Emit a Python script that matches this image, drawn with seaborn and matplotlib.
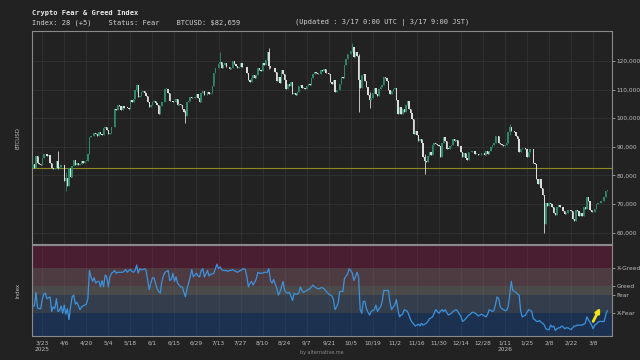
import numpy as np
import pandas as pd
import matplotlib
matplotlib.use("Agg")
import matplotlib.pyplot as plt
import matplotlib.ticker as mticker
import seaborn as sns

# ---------------- data ----------------
START = "2025-03-17"
OPEN0 = 82.6  # close of the day before the first candle (k USD)

# daily BTC closes, thousands of USD, 2025-03-17 .. 2026-03-17
CLOSE_K = [
    # Mar 2025 (17-31)
    84.1, 82.7, 86.9, 84.2, 84.0, 83.8, 86.1, 87.5, 87.4, 86.9, 87.2, 84.4, 82.6, 82.4, 82.5,
    # Apr
    85.2, 82.5, 83.1, 83.8, 83.5, 78.2, 79.2, 76.3, 82.6, 79.6, 83.4, 85.3, 83.7, 84.5, 83.7,
    84.0, 84.9, 84.4, 85.1, 85.2, 87.5, 93.4, 93.7, 93.9, 94.7, 94.6, 93.8, 95.0, 94.3, 94.2,
    # May
    96.5, 96.9, 95.9, 94.3, 94.7, 96.8, 97.0, 103.2, 102.9, 104.6, 104.1, 102.8, 104.2, 103.5, 103.7,
    103.6, 103.2, 106.4, 105.6, 106.8, 109.7, 111.7, 107.3, 107.8, 109.0, 109.4, 108.9, 107.8, 105.6, 103.9, 104.6,
    # Jun
    105.7, 105.9, 105.4, 104.7, 101.6, 104.4, 105.6, 105.8, 110.3, 110.3, 108.7, 105.9, 106.1, 105.5, 105.6,
    106.8, 104.6, 104.9, 104.7, 103.3, 102.1, 100.9, 105.6, 106.0, 107.3, 106.9, 107.1, 107.3, 108.4, 107.1,
    # Jul
    105.7, 108.8, 109.6, 108.0, 108.2, 109.2, 108.3, 108.9, 111.3, 115.9, 117.5, 117.4, 119.1, 119.8, 117.7,
    118.7, 119.4, 117.9, 117.9, 117.3, 117.4, 119.9, 118.8, 118.4, 117.6, 117.9, 119.4, 118.0, 117.8, 117.8, 115.8,
    # Aug
    113.3, 112.5, 114.2, 115.0, 114.1, 115.0, 117.5, 116.7, 116.5, 119.3, 118.7, 120.2, 123.3, 118.4, 117.4,
    117.5, 117.5, 116.3, 112.9, 114.3, 112.4, 116.9, 115.4, 113.5, 110.1, 111.8, 111.3, 112.6, 108.4, 108.8, 108.2,
    # Sep
    109.3, 111.2, 111.7, 110.7, 110.7, 110.2, 111.1, 112.0, 111.5, 113.9, 115.5, 116.1, 115.9, 115.3, 115.4,
    116.8, 116.5, 117.1, 115.7, 115.7, 115.3, 112.7, 112.0, 113.3, 109.0, 109.7, 109.7, 112.1, 114.4, 114.1,
    # Oct
    118.6, 120.6, 122.3, 122.4, 123.5, 124.8, 121.4, 123.3, 121.7, 113.2, 110.6, 115.2, 115.3, 113.0, 110.8,
    108.2, 106.4, 107.2, 108.7, 110.6, 108.5, 107.6, 110.1, 111.0, 111.6, 114.5, 114.1, 112.9, 110.0, 108.3, 109.6,
    # Nov
    110.1, 110.6, 106.5, 101.6, 103.9, 101.3, 103.3, 102.3, 104.7, 106.0, 103.1, 101.7, 99.7, 94.6, 95.6,
    94.2, 92.2, 92.9, 91.5, 86.6, 85.1, 84.6, 86.8, 88.3, 87.3, 90.5, 91.3, 90.9, 90.8, 90.4,
    # Dec
    86.3, 91.3, 93.5, 92.1, 89.4, 89.3, 90.4, 90.6, 92.7, 92.0, 92.5, 90.3, 90.3, 88.2, 86.4,
    87.8, 86.1, 85.5, 88.1, 88.3, 88.6, 88.5, 87.6, 87.6, 87.3, 87.3, 87.8, 87.8, 87.1, 88.4, 87.5,
    # Jan 2026
    88.7, 89.9, 90.6, 91.4, 93.9, 93.7, 91.3, 91.0, 90.5, 90.4, 90.8, 91.2, 95.3, 97.0, 95.5,
    95.5, 95.1, 93.6, 92.6, 88.3, 89.4, 89.5, 89.5, 89.2, 86.6, 88.3, 89.1, 89.2, 84.5, 84.1, 78.6,
    # Feb
    76.9, 78.7, 75.6, 73.0, 63.0, 70.5, 69.3, 70.5, 70.1, 68.8, 67.0, 66.2, 68.8, 69.8,
    68.8, 68.8, 67.5, 66.4, 67.0, 67.9, 68.0, 67.6, 64.6, 64.1, 68.0, 67.5, 65.9, 67.0,
    # Mar (1-17)
    65.7, 68.8, 68.3, 72.6, 70.9, 68.0, 67.3, 67.2, 68.4, 69.9, 70.2, 70.5, 70.9, 71.1, 72.5, 74.5, 74.9,
]

# notable wicks (thousands of USD)
WICK_DATES = ["2025-04-02", "2025-04-07", "2025-05-22", "2025-06-22", "2025-07-14", "2025-08-14",
              "2025-10-06", "2025-10-10", "2025-10-17", "2025-11-21", "2026-01-14", "2026-02-05"]
WICK_HIGH_K = [88.5, 81.2, 111.9, 103.0, 123.2, 124.5, 126.2, 122.5, 109.0, 87.5, 97.9, 73.1]
WICK_LOW_K = [82.3, 74.5, 109.3, 98.2, 118.9, 117.2, 123.1, 102.0, 103.5, 80.5, 94.2, 60.0]

# daily Fear & Greed index
FGI = [
    33, 33, 48, 31, 30, 30, 40, 46, 47, 41,
    42, 43, 27, 32, 30, 41, 27, 28, 33, 25,
    34, 24, 30, 18, 32, 43, 45, 35, 37, 33,
    29, 32, 33, 34, 35, 41, 72, 65, 60, 64,
    58, 60, 60, 54, 61, 54, 67, 65, 54, 65,
    69, 70, 72, 69, 70, 70, 70, 70, 71, 73,
    70, 72, 73, 71, 70, 72, 78, 69, 74, 73,
    73, 74, 72, 61, 51, 58, 64, 64, 58, 52,
    49, 47, 60, 66, 70, 71, 72, 61, 62, 69,
    60, 65, 58, 56, 54, 54, 48, 43, 52, 58,
    65, 73, 65, 67, 69, 66, 65, 72, 74, 65,
    68, 72, 66, 68, 68, 69, 74, 79, 74, 76,
    73, 72, 72, 72, 71, 72, 72, 73, 72, 71,
    70, 71, 72, 73, 74, 73, 65, 54, 58, 60,
    56, 59, 63, 70, 69, 69, 69, 70, 70, 70,
    74, 61, 58, 62, 57, 53, 45, 48, 54, 60,
    50, 48, 47, 48, 44, 39, 47, 46, 46, 47,
    54, 50, 48, 49, 50, 51, 52, 54, 56, 54,
    53, 52, 52, 53, 53, 52, 50, 48, 46, 45,
    44, 40, 29, 32, 36, 49, 49, 49, 63, 66,
    68, 74, 72, 69, 61, 65, 70, 65, 29, 25,
    38, 38, 30, 26, 23, 27, 28, 29, 34, 27,
    30, 32, 38, 50, 50, 50, 50, 36, 29, 32,
    34, 40, 29, 21, 23, 24, 29, 28, 27, 23,
    18, 15, 13, 11, 12, 13, 11, 14, 12, 13,
    14, 16, 19, 20, 21, 25, 29, 27, 25, 27,
    29, 27, 29, 26, 23, 24, 25, 27, 28, 29,
    27, 24, 22, 16, 17, 19, 21, 23, 24, 26,
    26, 25, 24, 22, 23, 24, 23, 22, 21, 24,
    29, 28, 27, 28, 35, 43, 41, 32, 30, 29,
    28, 28, 32, 45, 60, 50, 49, 48, 46, 45,
    27, 21, 22, 23, 26, 29, 28, 27, 19, 18,
    16, 16, 17, 15, 14, 12, 8, 7, 7, 12,
    10, 11, 6, 8, 9, 9, 11, 10, 8, 9,
    9, 8, 7, 9, 11, 11, 12, 12, 12, 12,
    13, 14, 21, 18, 15, 12, 8, 12, 13, 15,
    16, 16, 16, 16, 23, 28,
]

BAND_EDGES = [0, 25, 45, 55, 75, 100]
BAND_COLORS = ["#1c3150", "#343d4b", "#4a4a4a", "#4e3b42", "#4a1e31"]
ZONE_TICKS = [25, 45, 55, 75]
ZONE_LABELS = ["X-Fear", "Fear", "Greed", "X-Greed"]

PRICE_NOW = 82659
INDEX_NOW = 28
INDEX_CHG = "+5"
STATUS = "Fear"

# ---------------- style ----------------
sns.set_theme(style="dark")
BG = "#222222"
TXT = "#bdbdbd"
plt.rcParams.update({
    "figure.facecolor": BG, "axes.facecolor": BG, "savefig.facecolor": BG,
    "axes.edgecolor": "#8a8a8a", "text.color": TXT,
    "xtick.color": TXT, "ytick.color": TXT,
})
plt.rcParams["font.family"] = ["DejaVu Sans"]

dates = pd.date_range(START, periods=len(CLOSE_K), freq="D")
close = np.array(CLOSE_K) * 1000
opens = np.concatenate([[OPEN0 * 1000], close[:-1]])
hi = np.maximum(opens, close)
lo = np.minimum(opens, close)
for d, h, l in zip(WICK_DATES, WICK_HIGH_K, WICK_LOW_K):
    i = dates.get_loc(pd.Timestamp(d))
    hi[i] = max(hi[i], h * 1000)
    lo[i] = min(lo[i], l * 1000)
up = close >= opens
UPC, DNC = "#2c8a69", "#dcdcdc"
cols = np.where(up, UPC, DNC)

fig = plt.figure(figsize=(6.4, 3.6), dpi=100)
W, H = 640, 360
def box(x0, y0, x1, y1):
    return [x0 / W, 1 - y1 / H, (x1 - x0) / W, (y1 - y0) / H]

ax1 = fig.add_axes(box(32, 31, 612, 244))
ax2 = fig.add_axes(box(32, 245, 612, 336), sharex=ax1)

# ---- candles ----
ax1.vlines(dates, lo, hi, colors=cols, lw=0.6, zorder=3)
body = np.maximum(np.abs(close - opens), 150)
ax1.bar(dates, body, bottom=np.minimum(opens, close), width=0.9,
        color=cols, linewidth=0, zorder=4)
ax1.axhline(PRICE_NOW, color="#8c8a25", lw=0.8, zorder=2)

ax1.set_ylim(56000, 130500)
ax1.set_yticks(np.arange(60000, 120001, 10000))
ax1.yaxis.set_major_formatter(mticker.FuncFormatter(lambda v, p: f"{v:,.0f}"))
ax1.yaxis.tick_right()
ax1.tick_params(axis="y", labelsize=4.2, length=2, width=0.5, pad=1.5, colors=TXT)
ax1.tick_params(axis="x", labelbottom=False, length=0)
ax1.grid(True, color="#353535", lw=0.5)
ax1.set_ylabel("")

# ---- fear & greed panel ----
for i, c in enumerate(BAND_COLORS):
    ax2.axhspan(BAND_EDGES[i], BAND_EDGES[i + 1], color=c, lw=0, zorder=0)
fgi_df = pd.DataFrame({"date": dates, "fgi": FGI})
sns.lineplot(data=fgi_df, x="date", y="fgi", ax=ax2, color="#3d92dc", lw=0.9, zorder=3)
ax2.set_ylim(0, 100)
ax2.set_yticks(ZONE_TICKS)
ax2.set_yticklabels(ZONE_LABELS)
ax2.yaxis.tick_right()
ax2.tick_params(axis="y", labelsize=4.2, length=2, width=0.5, pad=1.5, colors=TXT)
ax2.set_xlabel("")
ax2.set_ylabel("")
ax2.grid(True, axis="x", color="#ffffff", alpha=0.06, lw=0.5)
ax2.grid(False, axis="y")

# arrow at the end
last = dates[-1]
ax2.annotate("", xy=(last - pd.Timedelta(days=4.5), FGI[-1] + 3),
             xytext=(last - pd.Timedelta(days=9), FGI[-1] - 12),
             arrowprops=dict(arrowstyle="-|>", color="#f5e31a", lw=2.0, mutation_scale=6,
                             shrinkA=0, shrinkB=0), zorder=5)

# x ticks
ticks = pd.date_range("2025-03-23", "2026-03-17", freq="14D")
labels = []
for t in ticks:
    s = f"{t.month}/{t.day}"
    if t == ticks[0] or (t.year == 2026 and (t - pd.Timedelta(days=14)).year == 2025):
        s += f"\n{t.year}"
    labels.append(s)
ax2.set_xticks(ticks)
ax2.set_xticklabels(labels)
ax2.tick_params(axis="x", labelsize=4.2, length=2, width=0.5, pad=1.5, colors=TXT)
ax1.set_xlim(dates[0] - pd.Timedelta(hours=12), dates[-1] + pd.Timedelta(days=3))

for ax in (ax1, ax2):
    for s in ax.spines.values():
        s.set_color("#8a8a8a")
        s.set_linewidth(0.8)

# ---- texts ----
def ftxt(x, y, s, **kw):
    fig.text(x / W, 1 - y / H, s, **kw)

MONO = ["DejaVu Sans Mono"]
ftxt(32, 13.5, "Crypto Fear & Greed Index", fontsize=5, fontweight="bold",
     family=MONO, color="#ececec", va="center")
ftxt(32, 22.5, f"Index: {INDEX_NOW} ({INDEX_CHG})    Status: {STATUS}    BTCUSD: ${PRICE_NOW:,}",
     fontsize=5, family=MONO, color="#d0d0d0", va="center")
ftxt(295, 22.5, "(Updated : 3/17 0:00 UTC | 3/17 9:00 JST)", fontsize=5, family=MONO,
     color="#d0d0d0", va="center")
ftxt(18, 138, "BTCUSD", fontsize=4, rotation=90, ha="center", va="center", color=TXT)
ftxt(18, 290, "Index", fontsize=4, rotation=90, ha="center", va="center", color=TXT)
ftxt(322, 352.5, "by alternative.me", fontsize=3.5, ha="center", va="center", color="#8a8a8a")

fig.savefig("out.png", dpi=100)
